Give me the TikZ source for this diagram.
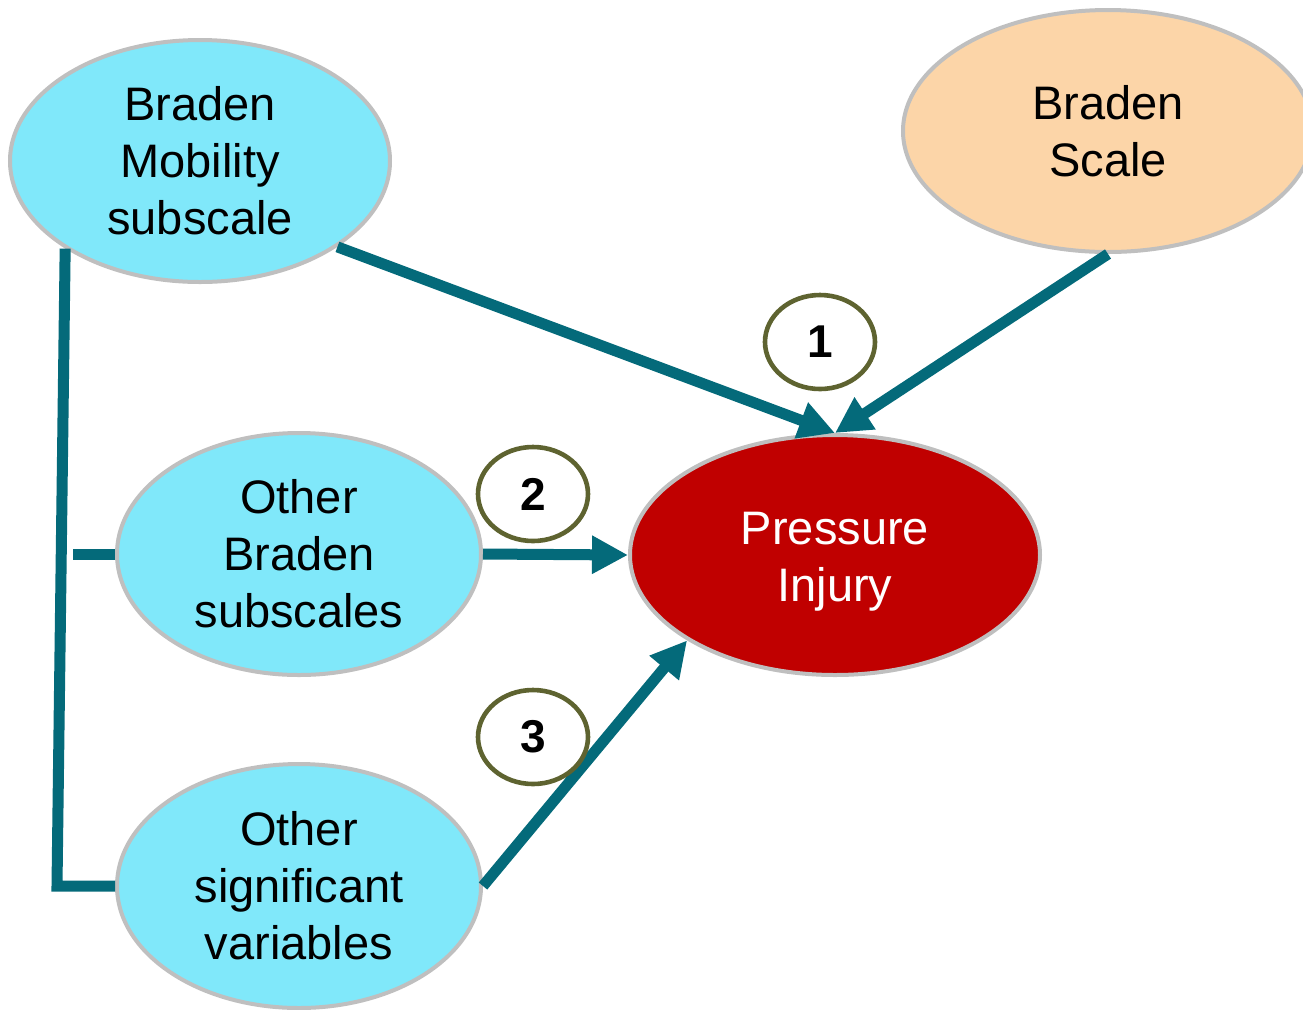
\documentclass[tikz,border=0pt]{standalone}
\usepackage{fontspec}
\setmainfont{Liberation Sans}
\usetikzlibrary{shapes.geometric,arrows.meta}
\definecolor{cyanfill}{RGB}{128,232,250}
\definecolor{peach}{RGB}{252,213,168}
\definecolor{darkred}{RGB}{192,0,0}
\definecolor{teal}{RGB}{4,106,122}
\definecolor{rim}{RGB}{191,191,191}
\definecolor{olive}{RGB}{94,99,48}
\tikzset{
  bubble/.style={ellipse, draw=rim, line width=2pt, inner sep=0pt, align=center,
    font=\fontsize{23.5}{28.5}\selectfont},
  numbubble/.style={ellipse, draw=olive, line width=2.3pt, fill=white, inner sep=0pt,
    minimum width=55pt, minimum height=47pt, font=\fontsize{23}{27}\selectfont\bfseries},
  link/.style={draw=teal, line width=5.5pt},
  arrowlink/.style={link, -{Triangle[length=18pt,width=18pt]}},
}
\begin{document}
\begin{tikzpicture}[x=0.5pt,y=-0.5pt]
\useasboundingbox (0,0) rectangle (1303,1009);
\node[bubble, fill=cyanfill, minimum width=190pt, minimum height=121pt] (mob) at (200,161) {Braden\\Mobility\\subscale};
\node[bubble, fill=peach, minimum width=205pt, minimum height=121pt] (bs) at (1108,131) {Braden\\Scale};
\node[bubble, fill=cyanfill, minimum width=182pt, minimum height=121pt] (ob) at (299,554) {Other\\Braden\\subscales};
\node[bubble, fill=cyanfill, minimum width=182pt, minimum height=122pt] (os) at (299,886) {Other\\significant\\variables};
\node[bubble, fill=darkred, text=white, minimum width=205pt, minimum height=120pt] (pi) at (835,555) {\rule{0pt}{23pt}Pressure\\Injury};

\coordinate (bend) at (57,886);
\coordinate (tick) at (73,554);

\draw[link] (mob.213) -- (bend) -- (os.west);
\draw[link] (tick) -- (ob.west);

\draw[arrowlink] (mob.-32.5) -- (pi.north);
\draw[arrowlink] (bs.south) -- (pi.north);
\draw[arrowlink] (ob.east) -- (pi.west);
\draw[arrowlink] (os.east) -- (pi.210.7);

\node[numbubble] (n1) at (820,342) {1};
\node[numbubble] (n2) at (533,494) {2};
\node[numbubble, fill=none] (n3) at (533,737) {3};
\end{tikzpicture}
\end{document}
